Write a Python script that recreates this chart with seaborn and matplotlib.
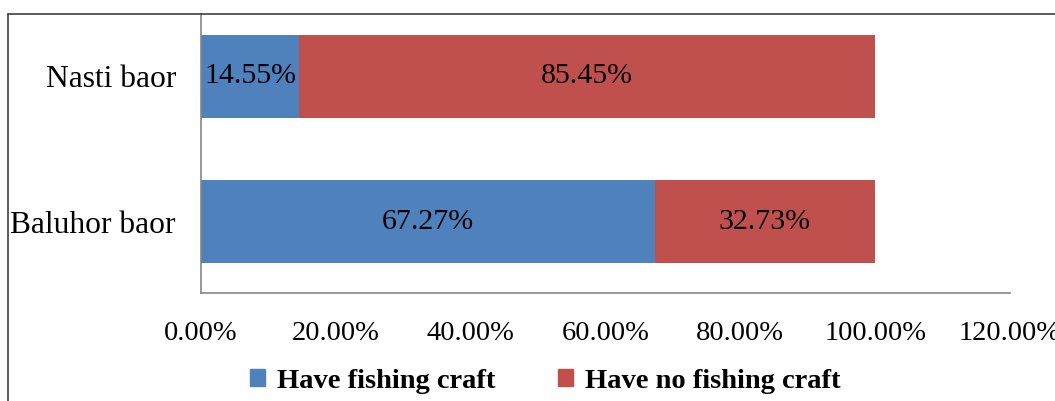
import matplotlib
matplotlib.use("Agg")
import matplotlib.pyplot as plt
import seaborn as sns
import pandas as pd
from matplotlib.patches import Patch
from matplotlib.lines import Line2D
from matplotlib.ticker import FuncFormatter

categories = ["Nasti baor", "Baluhor baor"]
have_craft = [14.55, 67.27]
no_craft = [85.45, 32.73]
series_names = ["Have fishing craft", "Have no fishing craft"]
xticks = [0, 20, 40, 60, 80, 100, 120]

BLUE = "#4F81BD"
RED = "#C0504D"

sns.set_theme(style="white")
plt.rcParams['font.family'] = ['Liberation Serif', 'DejaVu Serif']
plt.rcParams['text.color'] = 'black'

fig = plt.figure(figsize=(10.55, 4.01), dpi=100)
ax = fig.add_axes([201/1055, 1 - 293/401, (1010-201)/1055, (293-14)/401])

totals = [h + n for h, n in zip(have_craft, no_craft)]
df = pd.DataFrame({"cat": categories, "have": have_craft, "no": no_craft, "total": totals})

sns.barplot(data=df, x="total", y="cat", order=categories, color=RED,
            orient="h", width=0.572, saturation=1, linewidth=0, ax=ax)
sns.barplot(data=df, x="have", y="cat", order=categories, color=BLUE,
            orient="h", width=0.572, saturation=1, linewidth=0, ax=ax)

for i, (h, n) in enumerate(zip(have_craft, no_craft)):
    ax.text(h / 2, i, f"{h:.2f}%", ha="center", va="center", fontsize=21.5, color="black")
    ax.text(h + n / 2, i, f"{n:.2f}%", ha="center", va="center", fontsize=21.5, color="black")

ax.set_xlim(0, 120)
ax.set_ylim(1.493, -0.431)
ax.set_xticks(xticks)
ax.xaxis.set_major_formatter(FuncFormatter(lambda v, p: f"{v:.2f}%"))
ax.set_xlabel("")
ax.set_ylabel("")
ax.tick_params(axis="both", length=0, colors="black")
ax.tick_params(axis="x", pad=20, labelsize=20.5)
ax.tick_params(axis="y", pad=18, labelsize=22.7)
for s in ["top", "right"]:
    ax.spines[s].set_visible(False)
for s in ["left", "bottom"]:
    ax.spines[s].set_color("#868686")
    ax.spines[s].set_linewidth(1.2)

handles = [Patch(facecolor=BLUE, edgecolor=BLUE), Patch(facecolor=RED, edgecolor=RED)]
leg = fig.legend(handles, series_names, loc="center", bbox_to_anchor=(545/1055, 1 - 381/401),
                 ncol=2, frameon=False, prop={"size": 20.5, "weight": "bold"},
                 labelcolor="black",
                 handlelength=0.55, handleheight=0.55, handletextpad=0.4, columnspacing=2.2)

# outer chart frame (cropped on right and bottom)
fig.add_artist(Line2D([8/1055, 8/1055], [0, 1 - 14/401], transform=fig.transFigure,
                      color="#404040", linewidth=1.2))
fig.add_artist(Line2D([8/1055, 1], [1 - 14/401, 1 - 14/401], transform=fig.transFigure,
                      color="#404040", linewidth=1.2))

fig.savefig("out.png", dpi=100)
